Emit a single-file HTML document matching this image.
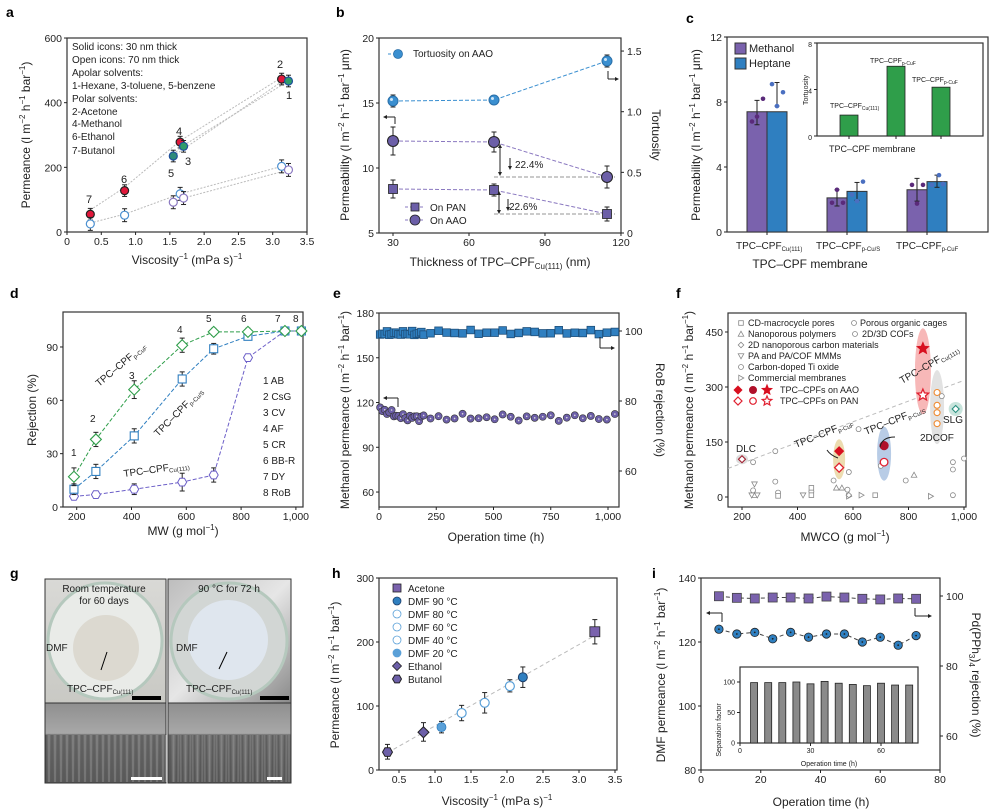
<!DOCTYPE html>
<html><head><meta charset="utf-8"><style>
html,body{margin:0;padding:0;background:#fff}
svg{display:block;font-family:"Liberation Sans",Arial,sans-serif}
</style></head><body>
<svg id="s" width="998" height="811" viewBox="0 0 998 811" xmlns="http://www.w3.org/2000/svg">
<defs>
<linearGradient id="ph1" x1="0" y1="0" x2="0" y2="1"><stop offset="0" stop-color="#d9d9d6"/><stop offset="1" stop-color="#c9c9c4"/></linearGradient>
<linearGradient id="ph2" x1="0" y1="0" x2="1" y2="1"><stop offset="0" stop-color="#bdbdbd"/><stop offset="0.5" stop-color="#e6e6e6"/><stop offset="1" stop-color="#8a8a8a"/></linearGradient>
<linearGradient id="sem" x1="0" y1="0" x2="0" y2="1"><stop offset="0" stop-color="#8f8f8f"/><stop offset="0.38" stop-color="#a8a8a8"/><stop offset="0.4" stop-color="#6d6d6d"/><stop offset="1" stop-color="#5a5a5a"/></linearGradient>
</defs>
<g font-size="14" font-weight="bold">
<text x="6" y="17">a</text><text x="336" y="17">b</text><text x="686" y="23">c</text>
<text x="10" y="298">d</text><text x="333" y="298">e</text><text x="676" y="298">f</text>
<text x="10" y="578">g</text><text x="332" y="578">h</text><text x="652" y="578">i</text>
</g>
<rect x="45" y="579" width="121" height="124" fill="url(#ph1)" stroke="#333"/>
<ellipse cx="105" cy="641" rx="57" ry="58" fill="#e9ebe8" stroke="#b5c8bd" stroke-width="3"/>
<circle cx="106" cy="648" r="33" fill="#dcd9d0"/>
<rect x="168" y="579" width="123" height="124" fill="url(#ph2)" stroke="#333"/>
<ellipse cx="229" cy="641" rx="58" ry="58" fill="#d2d6d4" stroke="#b5c8bd" stroke-width="3"/>
<circle cx="228" cy="640" r="40" fill="#dfe6ee"/>
<rect x="45" y="703" width="121" height="80" fill="url(#sem)" stroke="#333"/>
<rect x="168" y="703" width="123" height="80" fill="url(#sem)" stroke="#333"/>
<g id="semlines"></g>
<rect x="132" y="696" width="29" height="4" fill="#000"/><rect x="260" y="696" width="29" height="4" fill="#000"/>
<rect x="131" y="777" width="31" height="3" fill="#fff"/><rect x="267" y="777" width="15" height="3" fill="#fff"/>
<g font-size="10" fill="#222">
<text x="104" y="592" text-anchor="middle">Room temperature</text><text x="104" y="604" text-anchor="middle">for 60 days</text>
<text x="229" y="592" text-anchor="middle">90 °C for 72 h</text>
<text x="46" y="651">DMF</text><text x="176" y="651">DMF</text>
<text x="67" y="692">TPC–CPF<tspan font-size="6" dy="2">Cu(111)</tspan></text>
<text x="186" y="692">TPC–CPF<tspan font-size="6" dy="2">Cu(111)</tspan></text>
</g>
<line x1="101" y1="670" x2="107" y2="652" stroke="#000"/><line x1="219" y1="669" x2="227" y2="652" stroke="#000"/>
<g id="g"></g>
<g font-size="10" fill="#222">
<text x="72" y="50">Solid icons: 30 nm thick</text>
<text x="72" y="63">Open icons: 70 nm thick</text>
<text x="72" y="76">Apolar solvents:</text>
<text x="72" y="89">1-Hexane, 3-toluene, 5-benzene</text>
<text x="72" y="102">Polar solvents:</text>
<text x="72" y="115">2-Acetone</text><text x="72" y="127">4-Methanol</text>
<text x="72" y="140">6-Ethanol</text><text x="72" y="154">7-Butanol</text>
</g>
<g font-size="11" fill="#222">
<text x="277" y="68">2</text><text x="286" y="99">1</text><text x="176" y="135">4</text><text x="185" y="165">3</text>
<text x="168" y="177">5</text><text x="121" y="183">6</text><text x="86" y="203">7</text>
</g>
<g font-size="12" fill="#222">
<text x="187" y="264" text-anchor="middle">Viscosity<tspan font-size="8" dy="-5">−1</tspan><tspan dy="5"> (mPa s)</tspan><tspan font-size="8" dy="-5">−1</tspan></text>
<text transform="translate(30,135) rotate(-90)" text-anchor="middle">Permeance (l m<tspan font-size="8" dy="-5">−2</tspan><tspan dy="5"> h</tspan><tspan font-size="8" dy="-5">−1</tspan><tspan dy="5"> bar</tspan><tspan font-size="8" dy="-5">−1</tspan><tspan dy="5">)</tspan></text>
<text x="500" y="266" text-anchor="middle">Thickness of TPC–CPF<tspan font-size="8" dy="3">Cu(111)</tspan><tspan dy="-3"> (nm)</tspan></text>
<text transform="translate(349,135) rotate(-90)" text-anchor="middle">Permeability (l m<tspan font-size="8" dy="-5">−2</tspan><tspan dy="5"> h</tspan><tspan font-size="8" dy="-5">−1</tspan><tspan dy="5"> bar</tspan><tspan font-size="8" dy="-5">−1</tspan><tspan dy="5"> μm)</tspan></text>
<text transform="translate(652,135) rotate(90)" text-anchor="middle">Tortuosity</text>
<text x="810" y="268" text-anchor="middle">TPC–CPF membrane</text>
<text transform="translate(700,135) rotate(-90)" text-anchor="middle">Permeability (l m<tspan font-size="8" dy="-5">−2</tspan><tspan dy="5"> h</tspan><tspan font-size="8" dy="-5">−1</tspan><tspan dy="5"> bar</tspan><tspan font-size="8" dy="-5">−1</tspan><tspan dy="5"> μm)</tspan></text>
<text x="183" y="535" text-anchor="middle">MW (g mol<tspan font-size="8" dy="-5">−1</tspan><tspan dy="5">)</tspan></text>
<text transform="translate(36,410) rotate(-90)" text-anchor="middle">Rejection (%)</text>
<text x="496" y="541" text-anchor="middle">Operation time (h)</text>
<text transform="translate(349,410) rotate(-90)" text-anchor="middle">Methanol permeance (l m<tspan font-size="8" dy="-5">−2</tspan><tspan dy="5"> h</tspan><tspan font-size="8" dy="-5">−1</tspan><tspan dy="5"> bar</tspan><tspan font-size="8" dy="-5">−1</tspan><tspan dy="5">)</tspan></text>
<text transform="translate(656,410) rotate(90)" text-anchor="middle">RoB rejection (%)</text>
<text x="845" y="541" text-anchor="middle">MWCO (g mol<tspan font-size="8" dy="-5">−1</tspan><tspan dy="5">)</tspan></text>
<text transform="translate(693,410) rotate(-90)" text-anchor="middle">Methanol permeance (l m<tspan font-size="8" dy="-5">−2</tspan><tspan dy="5"> h</tspan><tspan font-size="8" dy="-5">−1</tspan><tspan dy="5"> bar</tspan><tspan font-size="8" dy="-5">−1</tspan><tspan dy="5">)</tspan></text>
<text x="497" y="805" text-anchor="middle">Viscosity<tspan font-size="8" dy="-5">−1</tspan><tspan dy="5"> (mPa s)</tspan><tspan font-size="8" dy="-5">−1</tspan></text>
<text transform="translate(339,675) rotate(-90)" text-anchor="middle">Permeance (l m<tspan font-size="8" dy="-5">−2</tspan><tspan dy="5"> h</tspan><tspan font-size="8" dy="-5">−1</tspan><tspan dy="5"> bar</tspan><tspan font-size="8" dy="-5">−1</tspan><tspan dy="5">)</tspan></text>
<text x="821" y="806" text-anchor="middle">Operation time (h)</text>
<text transform="translate(665,675) rotate(-90)" text-anchor="middle">DMF permeance (l m<tspan font-size="8" dy="-5">−2</tspan><tspan dy="5"> h</tspan><tspan font-size="8" dy="-5">−1</tspan><tspan dy="5"> bar</tspan><tspan font-size="8" dy="-5">−1</tspan><tspan dy="5">)</tspan></text>
<text transform="translate(972,675) rotate(90)" text-anchor="middle">Pd(PPh<tspan font-size="8" dy="3">3</tspan><tspan dy="-3">)</tspan><tspan font-size="8" dy="3">4</tspan><tspan dy="-3"> rejection (%)</tspan></text>
</g>
<g font-size="10" fill="#222">
<text x="413" y="57">Tortuosity on AAO</text>
<text x="430" y="211">On PAN</text><text x="430" y="224">On AAO</text>
<text x="515" y="168">22.4%</text><text x="509" y="210">22.6%</text>
<text x="749" y="52" font-size="11">Methanol</text><text x="749" y="67" font-size="11">Heptane</text>
<text x="829" y="152" font-size="9">TPC–CPF membrane</text>
<text x="830" y="108" font-size="7">TPC–CPF<tspan font-size="5" dy="2">Cu(111)</tspan></text>
<text x="870" y="63" font-size="7">TPC–CPF<tspan font-size="5" dy="2">p-CuF</tspan></text>
<text x="912" y="82" font-size="7">TPC–CPF<tspan font-size="5" dy="2">p-CuF</tspan></text>
<text x="736" y="249">TPC–CPF<tspan font-size="6" dy="2">Cu(111)</tspan></text>
<text x="816" y="249">TPC–CPF<tspan font-size="6" dy="2">p-Cu/S</tspan></text>
<text x="896" y="249">TPC–CPF<tspan font-size="6" dy="2">p-CuF</tspan></text>
<text x="263" y="384">1 AB</text><text x="263" y="400">2 CsG</text><text x="263" y="416">3 CV</text><text x="263" y="432">4 AF</text>
<text x="263" y="448">5 CR</text><text x="263" y="464">6 BB-R</text><text x="263" y="480">7 DY</text><text x="263" y="496">8 RoB</text>
<g font-size="10"><text x="71" y="456">1</text><text x="90" y="422">2</text><text x="129" y="379">3</text><text x="177" y="333">4</text>
<text x="206" y="322">5</text><text x="241" y="322">6</text><text x="275" y="322">7</text><text x="293" y="322">8</text></g>
<text transform="translate(99,387) rotate(-40)">TPC–CPF<tspan font-size="6" dy="2">p-CuF</tspan></text>
<text transform="translate(158,437) rotate(-45)">TPC–CPF<tspan font-size="6" dy="2">p-Cu/S</tspan></text>
<text transform="translate(124,477) rotate(-8)">TPC–CPF<tspan font-size="6" dy="2">Cu(111)</tspan></text>
<g font-size="9"><text x="748" y="326">CD-macrocycle pores</text><text x="860" y="326">Porous organic cages</text>
<text x="748" y="337">Nanoporous polymers</text><text x="862" y="337">2D/3D COFs</text>
<text x="748" y="348">2D nanoporous carbon materials</text><text x="748" y="359">PA and PA/COF MMMs</text>
<text x="748" y="370">Carbon-doped Ti oxide</text><text x="748" y="381">Commercial membranes</text>
<text x="780" y="393">TPC–CPFs on AAO</text><text x="780" y="404">TPC–CPFs on PAN</text></g>
<text x="736" y="452">DLC</text><text x="943" y="423">SLG</text><text x="920" y="441">2DCOF</text>
<text transform="translate(796,448) rotate(-22)">TPC–CPF<tspan font-size="6" dy="2">p-CuF</tspan></text>
<text transform="translate(866,435) rotate(-22)">TPC–CPF<tspan font-size="6" dy="2">p-Cu/S</tspan></text>
<text transform="translate(902,384) rotate(-30)">TPC–CPF<tspan font-size="6" dy="2">Cu(111)</tspan></text>
<text x="408" y="592">Acetone</text><text x="408" y="605">DMF 90 °C</text><text x="408" y="618">DMF 80 °C</text><text x="408" y="631">DMF 60 °C</text>
<text x="408" y="644">DMF 40 °C</text><text x="408" y="657">DMF 20 °C</text><text x="408" y="670">Ethanol</text><text x="408" y="683">Butanol</text>
<text transform="translate(721,730) rotate(-90)" font-size="7" text-anchor="middle">Separation factor</text>
<text x="829" y="766" font-size="7" text-anchor="middle">Operation time (h)</text>
</g>
</svg>
<script>
const S=document.getElementById('g'),NS='http://www.w3.org/2000/svg';
function E(t,a,txt,p){const e=document.createElementNS(NS,t);for(const k in a)e.setAttribute(k,a[k]);if(txt!=null)e.textContent=txt;(p||S).appendChild(e);return e;}
function L(x1,y1,x2,y2,st,w,da){return E('line',{x1,y1,x2,y2,stroke:st||'#222','stroke-width':w||1,'stroke-dasharray':da||'none'});}
function box(x1,y1,x2,y2){E('rect',{x:x1,y:y1,width:x2-x1,height:y2-y1,fill:'none',stroke:'#333','stroke-width':1.2});}
function T(x,y,s,anc,fs){E('text',{x,y,'font-size':fs||10.5,'text-anchor':anc||'middle',fill:'#222'},s);}
function xt(vals,fx,y,fmt,fs,len){vals.forEach(v=>{const x=fx(v);L(x,y,x,y+(len||3));T(x,y+13,fmt?fmt(v):v,'middle',fs);});}
function yt(vals,fy,x,fmt,fs,side){vals.forEach(v=>{const y=fy(v);if(side=='r'){L(x,y,x+3,y);T(x+6,y+4,fmt?fmt(v):v,'start',fs);}else{L(x-3,y,x,y);T(x-5,y+4,fmt?fmt(v):v,'end',fs);}});}
function eb(x,y1,y2){L(x,y1,x,y2,'#222',1);L(x-2.5,y1,x+2.5,y1,'#222',1);L(x-2.5,y2,x+2.5,y2,'#222',1);}
function C(x,y,r,f,s,w){return E('circle',{cx:x,cy:y,r,fill:f,stroke:s||'#222','stroke-width':w||0.8});}
function SQ(x,y,h,f,s){return E('rect',{x:x-h,y:y-h,width:2*h,height:2*h,fill:f,stroke:s||'#222','stroke-width':0.8});}
function DI(x,y,h,f,s,w){return E('polygon',{points:`${x},${y-h} ${x+h},${y} ${x},${y+h} ${x-h},${y}`,fill:f,stroke:s||'#222','stroke-width':w||0.8});}
function PL(pts,st,w,da){return E('polyline',{points:pts.map(p=>p.join(',')).join(' '),fill:'none',stroke:st,'stroke-width':w||1,'stroke-dasharray':da||'none'});}
function TRI(x,y,h,dir,f,s){let p;if(dir=='u')p=`${x},${y-h} ${x+h},${y+h*.8} ${x-h},${y+h*.8}`;else if(dir=='d')p=`${x},${y+h} ${x+h},${y-h*.8} ${x-h},${y-h*.8}`;else p=`${x+h},${y} ${x-h*.8},${y-h} ${x-h*.8},${y+h}`;return E('polygon',{points:p,fill:f,stroke:s,'stroke-width':0.8});}
function STAR(x,y,r,f,s,w){let p=[];for(let i=0;i<10;i++){const a=-Math.PI/2+i*Math.PI/5,rr=i%2?r*0.45:r;p.push((x+rr*Math.cos(a)).toFixed(1)+','+(y+rr*Math.sin(a)).toFixed(1));}return E('polygon',{points:p.join(' '),fill:f,stroke:s,'stroke-width':w||1});}
function HEX(x,y,r,f,s,w){let p=[];for(let i=0;i<6;i++){const a=i*Math.PI/3;p.push((x+r*Math.cos(a)).toFixed(1)+','+(y+r*Math.sin(a)).toFixed(1));}return E('polygon',{points:p.join(' '),fill:f,stroke:s,'stroke-width':w||1});}

const sg=document.getElementById('semlines');
for(let i=0;i<60;i++){const x=46+i*2+(i*7%3);E('line',{x1:x,y1:735,x2:x,y2:782,stroke:i%3?'#9a9a9a':'#4a4a4a','stroke-width':0.8},null,sg);}
for(let i=0;i<60;i++){const x=170+i*2+(i*5%2);E('line',{x1:x,y1:735,x2:x,y2:782,stroke:i%3?'#8a8a8a':'#4d4d4d','stroke-width':0.8},null,sg);}

// a
{const fx=v=>67+v*68.57,fy=v=>232-v*0.3233;box(67,38,307,232);
xt([0,0.5,1,1.5,2,2.5,3,3.5],fx,232,v=>v==0?'0':v.toFixed(1));yt([0,200,400,600],fy,67);
PL([[fx(0.34),fy(68)],[fx(0.84),fy(138)],[fx(1.65),fy(282)],[fx(3.13),fy(478)]],'#bbb',1,'2,1.5');
PL([[fx(1.55),fy(240)],[fx(1.7),fy(268)],[fx(3.23),fy(467)]],'#bbb',1,'2,1.5');
PL([[fx(1.55),fy(235)],[fx(3.13),fy(465)]],'#bbb',1,'2,1.5');
PL([[fx(0.34),fy(28)],[fx(0.84),fy(55)],[fx(1.65),fy(118)],[fx(3.13),fy(203)]],'#bbb',1,'2,1.5');
PL([[fx(1.55),fy(92)],[fx(1.7),fy(105)],[fx(3.23),fy(192)]],'#bbb',1,'2,1.5');
const sol=[[0.34,55,'#e0173a','#222'],[0.84,128,'#e0173a','#222'],[1.55,235,'#2d8a7a','#1f4f9c'],[1.65,278,'#e0173a','#222'],[1.7,265,'#2f9c6a','#1f4f9c'],[3.13,473,'#e0173a','#222'],[3.23,467,'#2f9c6a','#1f4f9c']];
sol.forEach(d=>{eb(fx(d[0]),fy(d[1]+18),fy(d[1]-18));C(fx(d[0]),fy(d[1]),4,d[2],d[3],1.2);});
const op=[[0.34,25,'#4a8fd0'],[0.84,52,'#4a8fd0'],[1.55,92,'#8a78c0'],[1.65,118,'#4a8fd0'],[1.7,105,'#8a78c0'],[3.13,203,'#4a8fd0'],[3.23,192,'#8a78c0']];
op.forEach(d=>{eb(fx(d[0]),fy(d[1]+20),fy(d[1]-20));C(fx(d[0]),fy(d[1]),4,'#fff',d[2],1.2);});}

// b
{const fx=t=>393+(t-30)*2.533,fy=v=>233-(v-5)*13,fr=v=>233-v*121.3;box(379,38,621,233);
xt([30,60,90,120],fx,233);yt([5,10,15,20],fy,379);yt([0,0.5,1.0,1.5],fr,621,v=>v==0?'0':v.toFixed(1),10.5,'r');
PL([[393,101],[494,100],[607,61]],'#3a8fd0',1,'4,2');
PL([[393,141],[494,142],[607,177]],'#8a78c0',1,'4,2');
PL([[393,189],[494,190],[607,214]],'#8a78c0',1,'4,2');
L(494,177,615,177,'#aaa',1.2,'4,2');L(494,214,615,214,'#aaa',1.2,'4,2');
[[393,101,6],[494,100,4],[607,61,6]].forEach(d=>{eb(d[0],d[1]-d[2],d[1]+d[2]);C(d[0],d[1],5,'#3a8fd0','#2a6fa8',1);C(d[0]-1.5,d[1]-1.5,1.5,'#cfe6f7','none',0);});
[[393,141,14],[494,142,10],[607,177,11]].forEach(d=>{eb(d[0],d[1]-d[2],d[1]+d[2]);C(d[0],d[1],5.5,'#6c5fa8','#222',1);});
[[393,189,9],[494,190,6],[607,214,7]].forEach(d=>{eb(d[0],d[1]-d[2],d[1]+d[2]);SQ(d[0],d[1],4.5,'#6c5fa8');});
L(500,146,500,174);E('polygon',{points:'500,144 498,148 502,148',fill:'#222'});E('polygon',{points:'500,176 498,172 502,172',fill:'#222'});
L(499,193,499,212);E('polygon',{points:'499,191 497,195 501,195',fill:'#222'});E('polygon',{points:'499,214 497,210 501,210',fill:'#222'});
L(510,158,510,168);E('polygon',{points:'510,170 508,166 512,166',fill:'#222'});
L(508,199,508,209);E('polygon',{points:'508,211 506,207 510,207',fill:'#222'});
L(388,54,402,54,'#3a8fd0',1,'3,2');C(398,54,4.5,'#3a8fd0','#2a6fa8');
L(405,207,425,207,'#8a78c0',1,'3,2');SQ(415,207,4,'#6c5fa8');L(405,220,425,220,'#8a78c0',1,'3,2');C(415,220,5,'#6c5fa8');
L(395,117,395,124);L(385,117,395,117);E('polygon',{points:'383,117 387,115 387,119',fill:'#222'});
L(608,71,608,79);L(608,79,617,79);E('polygon',{points:'619,79 615,77 615,81',fill:'#222'});}

// c
{const fy=v=>232-v*16.25;box(727,37,988,232);yt([0,4,8,12],fy,727);
[[747,7.4,'#7a62ad',[6.6,8.1]],[767,7.4,'#2f7fc0',[7.75,9.2]],[827,2.1,'#7a62ad',[1.6,2.6]],[847,2.5,'#2f7fc0',[1.95,3.05]],[907,2.6,'#7a62ad',[1.9,3.3]],[927,3.1,'#2f7fc0',[2.75,3.5]]].forEach(d=>{E('rect',{x:d[0],y:fy(d[1]),width:20,height:232-fy(d[1]),fill:d[2],stroke:'#333','stroke-width':1});eb(d[0]+10,fy(d[3][1]),fy(d[3][0]));});
[[752,6.8,'#5a2a7a'],[757,7.1,'#5a2a7a'],[763,8.2,'#5a2a7a'],[772,9.1,'#4a6fc0'],[777,7.75,'#4a6fc0'],[783,8.6,'#4a6fc0'],[832,1.8,'#5a2a7a'],[837,2.6,'#5a2a7a'],[843,1.8,'#5a2a7a'],[852,2.3,'#4a6fc0'],[857,1.9,'#4a6fc0'],[863,3.1,'#4a6fc0'],[912,2.9,'#5a2a7a'],[917,1.75,'#5a2a7a'],[923,2.9,'#5a2a7a'],[932,2.9,'#4a6fc0'],[939,3.5,'#4a6fc0'],[943,2.95,'#4a6fc0']].forEach(d=>C(d[0],fy(d[1]),2.3,d[2],'none',0));
E('rect',{x:735,y:43,width:11,height:11,fill:'#7a62ad',stroke:'#333'});E('rect',{x:735,y:58,width:11,height:11,fill:'#2f7fc0',stroke:'#333'});
const iy=v=>136-v*11.625;box(817,43,983,136);yt([0,4,8],iy,817,null,7);
[[840,1.8],[887,6.0],[932,4.2]].forEach(d=>{E('rect',{x:d[0],y:iy(d[1]),width:18,height:136-iy(d[1]),fill:'#2f9e4a',stroke:'#222','stroke-width':0.8});L(d[0]+9,136,d[0]+9,139);});
E('text',{transform:'translate(808,90) rotate(-90)','font-size':7,'text-anchor':'middle',fill:'#222'},'Tortuosity');
[757,837,917].forEach(x=>L(x+10,232,x+10,235));}

// d
{const fx=v=>63+(v-150)*0.274,fy=v=>507-v*1.778;box(63,312,303,507);
xt([200,400,600,800,1000],fx,507,v=>v==1000?'1,000':v);yt([0,30,60,90],fy,63);
const mw=[190,270,410,585,700,825,960,1020];
const g=[17,38,66,91,98.5,98.5,99,99],b=[10,20,40,72,89,96,99,99],p=[6,7,10,14,18,84,99,99];
const ge=[5,4,5,4,2,2,1,1],be=[3,4,4,4,3,2,1,1],pe=[2,2,3,5,4,2,1,1];
PL(mw.map((m,i)=>[fx(m),fy(g[i])]),'#2f9e4a',1,'4,2');PL(mw.map((m,i)=>[fx(m),fy(b[i])]),'#2f7fc0',1,'4,2');PL(mw.map((m,i)=>[fx(m),fy(p[i])]),'#6c5fc8',1,'4,2');
mw.forEach((m,i)=>{const x=fx(m);eb(x,fy(p[i]+pe[i]),fy(p[i]-pe[i]));HEX(x,fy(p[i]),4.5,'#fff','#6c5fc8',1);
eb(x,fy(b[i]+be[i]),fy(b[i]-be[i]));SQ(x,fy(b[i]),4,'#fff','#2f7fc0').setAttribute('stroke-width',1.1);
eb(x,fy(g[i]+ge[i]),fy(g[i]-ge[i]));DI(x,fy(g[i]),5.5,'#fff','#2f9e4a',1.1);});}

// e
{const fx=v=>379+v*0.229,fy=v=>313+(180-v)*1.492,fr=v=>331+(100-v)*3.5;box(379,313,619,507);
xt([0,250,500,750,1000],fx,507,v=>v==1000?'1,000':v);yt([60,90,120,150,180],fy,379);yt([60,80,100],fr,619,null,10.5,'r');
let t=[];for(let i=0;i<20;i++)t.push(5+i*10);for(let v=225;v<=1030;v+=35)t.push(v);
t.forEach((v,i)=>{const r=99.6-0.4*Math.sin(i*1.7)-0.3*Math.cos(i*2.9)-(v<200?0.3:0);SQ(fx(v),fr(r),3.8,'#2f7fc0','#1e4f7a');});
t.forEach((v,i)=>{const base=v<100?116-v*0.06:110;const y=base-1.5*Math.sin(i*2.3)+1*Math.cos(i*1.3);C(fx(v),fy(y),3.6,'#6c5fa8','#333',0.6);C(fx(v),fy(y),0.8,'#ddd','none',0);});
L(398,407,398,398);L(398,398,385,398);E('polygon',{points:'383,398 387,396 387,400',fill:'#222'});
L(600,337,600,348);L(600,348,613,348);E('polygon',{points:'615,348 611,346 611,350',fill:'#222'});}

// f
{const fx=v=>742+(v-200)*0.2775,fy=v=>497-v*0.3667;box(728,313,966,507);
xt([200,400,600,800,1000],fx,507,v=>v==1000?'1,000':v);yt([0,150,300,450],fy,728);
L(fx(150),fy(78),fx(1000),fy(318),'#bbb',1,'4,3');
E('ellipse',{cx:fx(200),cy:fy(103),rx:6,ry:5,fill:'#ddd'});E('ellipse',{cx:fx(550),cy:fy(103),rx:6,ry:20,fill:'#ecdcb0'});
E('ellipse',{cx:fx(712),cy:fy(118),rx:7,ry:27,fill:'#b8cce6'});E('ellipse',{cx:fx(852),cy:fy(343),rx:8,ry:43,fill:'#f7b8b8'});
E('ellipse',{cx:fx(903),cy:fy(245),rx:7,ry:37,fill:'#e2e2e2'});E('ellipse',{cx:fx(970),cy:fy(240),rx:7,ry:7,fill:'#c8e4dc'});
const gc='#888';
[[240,95],[320,125],[320,42],[330,12],[450,15],[530,45],[580,20],[585,68],[620,185],[700,85],[790,45],[920,275],[960,95],[960,75],[960,5],[1000,105],[240,18]].forEach(d=>C(fx(d[0]),fy(d[1]),2.5,'#fff',gc,0.8));
[[330,3],[450,25],[680,5],[450,5]].forEach(d=>SQ(fx(d[0]),fy(d[1]),2.3,'#fff',gc));
[[540,25],[560,25],[820,60],[245,5]].forEach(d=>TRI(fx(d[0]),fy(d[1]),2.8,'u','#fff',gc));
[[245,35],[235,5],[255,5],[420,5]].forEach(d=>TRI(fx(d[0]),fy(d[1]),2.8,'d','#fff',gc));
[[630,5],[880,2],[585,2]].forEach(d=>TRI(fx(d[0]),fy(d[1]),2.8,'r','#fff',gc));
DI(fx(585),fy(5),2.8,'#fff',gc);
DI(fx(200),fy(103),3.5,'#fff','#a02030',1.1);
DI(fx(550),fy(125),4.5,'#d81020','#d81020');DI(fx(550),fy(80),4.5,'#fff','#e02030',1.3);
C(fx(712),fy(140),4.2,'#b0102a','#b0102a');C(fx(712),fy(95),3.8,'#fff','#e02030',1.3);
STAR(fx(852),fy(405),6,'#d81020','#d81020');STAR(fx(852),fy(278),6,'#fff','#e02030',1.3);
[285,250,230,200].forEach(v=>C(fx(903),fy(v),3,'#fff','#f08a30',1.1));
DI(fx(970),fy(240),3.5,'#fff','#2a9080',1.1);
SQ(741,323,2.3,'#fff',gc);C(854,323,2.5,'#fff',gc);TRI(741,334,2.8,'u','#fff',gc);C(855,334,2.5,'#fff',gc);
DI(741,345,2.8,'#fff',gc);TRI(741,356,2.8,'d','#fff',gc);C(741,367,2.5,'#fff',gc);TRI(741,378,2.8,'r','#fff',gc);
DI(738,390,4,'#d81020','#d81020');C(753,390,3.6,'#b0102a','#b0102a');STAR(767,390,5,'#d81020','#d81020');
DI(738,401,4,'#fff','#e02030',1.2);C(753,401,3.3,'#fff','#e02030',1.2);STAR(767,401,5,'#fff','#e02030',1.2);
E('path',{d:'M827,450 Q830,455 838,458',fill:'none',stroke:'#222','stroke-width':1});
E('path',{d:'M895,437 Q882,437 880,447',fill:'none',stroke:'#222','stroke-width':1});}

// h
{const fx=v=>399+(v-0.5)*72,fy=v=>770-v*0.64;box(379,578,617,770);
xt([0.5,1,1.5,2,2.5,3,3.5],fx,770,v=>v.toFixed(1));yt([0,100,200,300],fy,379);
L(fx(0.34),fy(27),fx(3.22),fy(210),'#bbb',1,'4,3');
eb(fx(0.34),fy(40),fy(17));HEX(fx(0.34),fy(28),5,'#6c5fa8','#222',1);
eb(fx(0.84),fy(74),fy(45));DI(fx(0.84),fy(59),5.5,'#6c5fa8','#222',1);
eb(fx(1.09),fy(76),fy(58));C(fx(1.09),fy(67),4.5,'#5aa0d8','#2f7fc0');
eb(fx(1.37),fy(101),fy(77));C(fx(1.37),fy(89),4.5,'#fff','#5aa0d8',1.2);
eb(fx(1.69),fy(121),fy(89));C(fx(1.69),fy(105),4.5,'#fff','#5aa0d8',1.2);
eb(fx(2.04),fy(141),fy(122));C(fx(2.04),fy(131),4.5,'#fff','#5aa0d8',1.2);
eb(fx(2.22),fy(161),fy(129));C(fx(2.22),fy(145),4.5,'#2f7fc0','#1e3f6a',1);
eb(fx(3.22),fy(235),fy(197));SQ(fx(3.22),fy(216),5,'#7a62ad');
SQ(397,588,4,'#7a62ad');C(397,601,4,'#2f7fc0','#1e3f6a');C(397,614,4,'#fff','#5aa0d8');C(397,627,4,'#fff','#5aa0d8');
C(397,640,4,'#fff','#5aa0d8');C(397,653,4,'#5aa0d8','#5aa0d8');DI(397,666,4.5,'#6c5fa8');HEX(397,679,4.5,'#6c5fa8','#222');}

// i
{const fx=v=>701+v*2.9875,fy=v=>578+(140-v)*3.2,fr=v=>596+(100-v)*3.5;box(701,578,940,770);
xt([0,20,40,60,80],fx,770);yt([80,100,120,140],fy,701);yt([60,80,100],fr,940,null,10.5,'r');
const ts=[6,12,18,24,30,36,42,48,54,60,66,72];
const sq=[134.3,133.8,133.6,133.9,133.9,133.6,134.2,133.9,133.5,133.3,133.6,133.5];
const ci=[124,122.5,123,121,123,121.5,122.5,122.5,120,121.5,119,122];
PL(ts.map((t,i)=>[fx(t),fy(sq[i])]),'#444',1,'4,3');PL(ts.map((t,i)=>[fx(t),fy(ci[i])]),'#444',1,'4,3');
ts.forEach((t,i)=>{SQ(fx(t),fy(sq[i]),4.5,'#7a62ad','#444');C(fx(t),fy(ci[i]),4.2,'#2f7fc0','#222');C(fx(t),fy(ci[i]),0.9,'#222','none',0);});
L(722,622,722,613);L(722,613,708,613);E('polygon',{points:'706,613 710,611 710,615',fill:'#222'});
L(915,608,915,616);L(915,616,930,616);E('polygon',{points:'932,616 928,614 928,618',fill:'#222'});
const ix=v=>740+v*2.35,iy=v=>743-v*0.61;box(740,667,918,743);
[0,30,60].forEach(v=>{L(ix(v),743,ix(v),746);T(ix(v),753,v,'middle',7);});
[0,50,100].forEach(v=>{L(737,iy(v),740,iy(v));T(735,iy(v)+2.5,v,'end',7);});
const sf=[99,99,99,100,97,101,98,96,94,98,95,95];
ts.forEach((t,i)=>E('rect',{x:ix(t)-3.5,y:iy(sf[i]),width:7,height:743-iy(sf[i]),fill:'#8a8a8a',stroke:'#222','stroke-width':0.8}));}
</script>
</body></html>
